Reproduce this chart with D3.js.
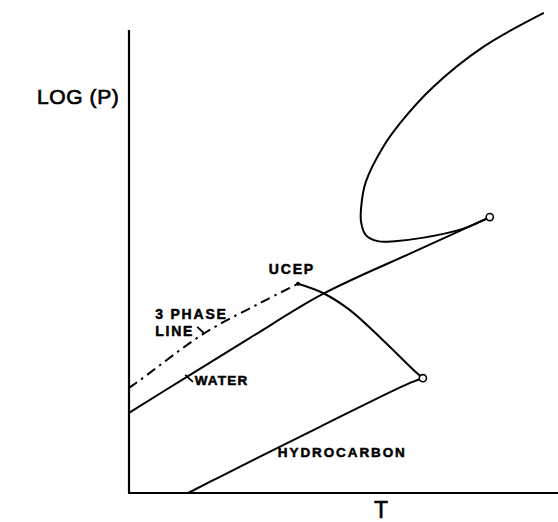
<!DOCTYPE html>
<html>
<head>
<meta charset="utf-8">
<script src="https://cdn.jsdelivr.net/npm/d3@7/dist/d3.min.js"></script>
<style>
  html, body { margin: 0; padding: 0; background: #fff; }
  svg { display: block; }
  text { font-family: "Liberation Sans", Arial, Helvetica, sans-serif; fill: #000; }
</style>
</head>
<body>
<svg id="chart" width="558" height="522"></svg>
<script>
// Schematic P–T phase diagram of a water / hydrocarbon system (arbitrary units 0–100).
const waterVaporT = [0, 13.5, 28.2, 45.2, 67.4, 84.1];
const waterVaporP = [17.3, 25.1, 33.5, 43.0, 52.5, 59.6];

const threePhaseT = [0, 2.6, 17.7, 30.5, 39.4];
const threePhaseP = [22.7, 24.4, 34.6, 41.0, 45.2];

const hcVaporT = [13.8, 21.2, 44.5, 65.5, 68.5];
const hcVaporP = [0, 3.5, 14.3, 23.8, 24.8];

const hcCriticalT = [39.4, 45.2, 51.5, 59.2, 67.1, 68.5];
const hcCriticalP = [45.2, 43.2, 39.5, 33.0, 25.9, 24.8];

const waterCriticalT = [84.1, 77.6, 68.3, 62.0, 58.0, 55.2, 54.1, 54.1, 55.2, 59.2, 63.2, 70.9, 82.5, 96.7];
const waterCriticalP = [59.6, 57.0, 55.1, 54.4, 54.4, 55.7, 58.5, 61.6, 67.2, 74.7, 79.9, 87.7, 96.3, 103.7];

const criticalPointsT = [84.1, 68.5];
const criticalPointsP = [59.6, 24.8];

const axisLabels = { x: "T", y: "LOG (P)" };

const svg = d3.select("#chart");
const x = d3.scaleLinear().domain([0, 100]).range([129, 558]);
const y = d3.scaleLinear().domain([0, 100]).range([493, 30]);

const pts = (ts, ps) => ts.map((t, i) => [t, ps[i]]);
const line = d3.line().x(d => x(d[0])).y(d => y(d[1])).curve(d3.curveCatmullRom.alpha(0.5));

// axes: plain frame lines without ticks
svg.append("line").attr("x1", x(0)).attr("x2", x(0)).attr("y1", y(100)).attr("y2", y(0))
  .attr("stroke", "#000").attr("stroke-width", 2.2);
svg.append("line").attr("x1", x(0) - 1).attr("x2", x(100)).attr("y1", y(0)).attr("y2", y(0))
  .attr("stroke", "#000").attr("stroke-width", 2.2);

const curve = (ts, ps, dash) => svg.append("path")
  .attr("d", line(pts(ts, ps)))
  .attr("fill", "none").attr("stroke", "#000").attr("stroke-width", 2)
  .attr("stroke-dasharray", dash || null);

curve(waterVaporT, waterVaporP);
curve(hcVaporT, hcVaporP);
curve(hcCriticalT, hcCriticalP);
curve(waterCriticalT, waterCriticalP);
curve(threePhaseT, threePhaseP, "10,5,2.5,5");

// UCEP dot
svg.append("circle").attr("cx", x(threePhaseT[threePhaseT.length - 1]))
  .attr("cy", y(threePhaseP[threePhaseP.length - 1])).attr("r", 2).attr("fill", "#000");

// open circles at critical points
svg.selectAll("circle.cp").data(pts(criticalPointsT, criticalPointsP)).enter()
  .append("circle").attr("class", "cp")
  .attr("cx", d => x(d[0])).attr("cy", d => y(d[1])).attr("r", 3.6)
  .attr("fill", "#fff").attr("stroke", "#000").attr("stroke-width", 1.6);

// leader ticks from labels to their curves
const leader = (t1, p1, t2, p2) => svg.append("line")
  .attr("x1", x(t1)).attr("y1", y(p1)).attr("x2", x(t2)).attr("y2", y(p2))
  .attr("stroke", "#000").attr("stroke-width", 1.8);
leader(15.9, 35.9, 17.5, 34.5);
leader(13.1, 25.5, 14.9, 24.0);

// curve labels (bold, slightly stroked for a heavy lettering look)
const label = (txt, t, p, size, spacing) => svg.append("text")
  .attr("x", x(t)).attr("y", y(p))
  .attr("font-size", size).attr("font-weight", "bold")
  .attr("letter-spacing", spacing)
  .attr("stroke", "#000").attr("stroke-width", 0.5)
  .text(txt);
label("UCEP", 32.6, 47.3, 14, 1.8);
label("3 PHASE", 6.1, 37.6, 14, 1.8);
label("LINE", 6.1, 33.9, 14, 1.8);
label("WATER", 15.3, 23.3, 13.5, 1.2);
label("HYDROCARBON", 34.7, 7.8, 13.5, 1.9);

// axis titles
svg.append("text").attr("x", 37).attr("y", 104)
  .attr("font-size", 21).attr("letter-spacing", 0.6)
  .attr("stroke", "#000").attr("stroke-width", 0.7).text(axisLabels.y);
svg.append("text").attr("x", 381).attr("y", 518)
  .attr("text-anchor", "middle").attr("font-size", 23)
  .attr("stroke", "#000").attr("stroke-width", 0.6).text(axisLabels.x);
</script>
</body>
</html>
